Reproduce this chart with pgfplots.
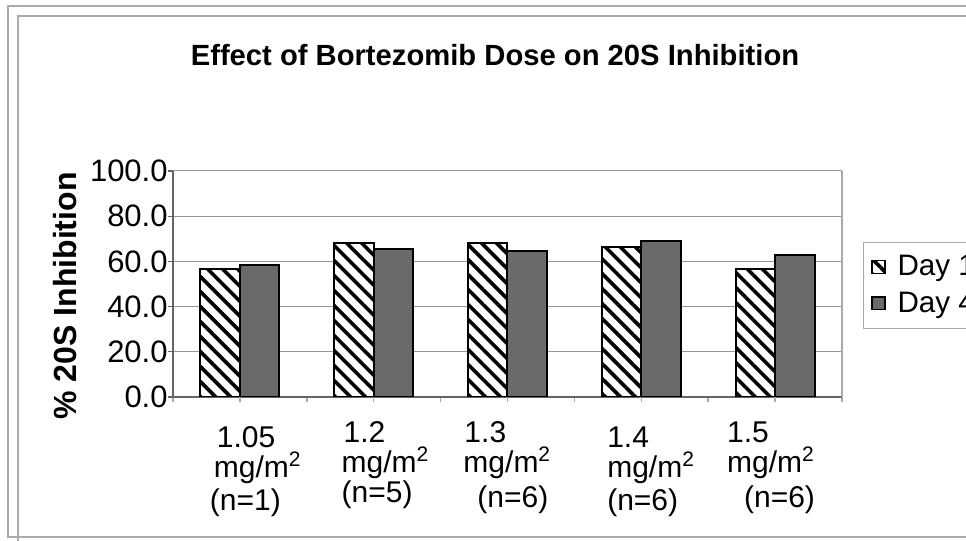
\documentclass[border=0pt]{standalone}
\usepackage{fontspec}
\setmainfont{Liberation Sans}
\usepackage{pgfplots}
\pgfplotsset{compat=1.18}
\usetikzlibrary{patterns.meta}
\definecolor{dayfour}{RGB}{106,106,106}
\definecolor{gridc}{RGB}{150,150,150}
\definecolor{framec}{RGB}{170,170,170}
\definecolor{axisc}{RGB}{100,100,100}
\begin{document}
\begin{tikzpicture}
\useasboundingbox (0,0) rectangle (483pt,270.5pt);
\clip (0,0) rectangle (483pt,270.5pt);
\draw[framec, line width=0.75pt] (4pt,2pt) rectangle (500pt,267.5pt);
\draw[framec, line width=0.75pt] (9pt,-10pt) rectangle (500pt,262.5pt);
\node[font=\bfseries\fontsize{14.6}{17}\selectfont] at (247.5pt,243pt) {Effect of Bortezomib Dose on 20S Inhibition};
\begin{axis}[
  at={(86.5pt,72pt)}, anchor=south west,
  scale only axis, width=334.5pt, height=113pt,
  xmin=-0.5, xmax=4.5, ymin=0, ymax=100,
  axis x line*=bottom, axis y line*=left,
  axis line style={draw=axisc, line width=0.75pt},
  tick align=outside,
  major tick length=2.5pt,
  ytick={0,20,...,100},
  ymajorgrids, grid style={draw=gridc, line width=0.5pt},
  ytick style={draw=axisc, line width=0.6pt},
  yticklabel style={font=\fontsize{15.5}{18}\selectfont, inner sep=0pt},
  /pgf/number format/.cd, fixed, fixed zerofill, precision=1, assume math mode=true,
  /pgfplots/.cd,
  ylabel={\% 20S Inhibition},
  ylabel style={font=\bfseries\fontsize{16}{19}\selectfont, at={(axis description cs:-0.1615,0.447)}, anchor=center},
  xtick={-0.5,0.5,...,4.5},
  xticklabels={},
  xtick style={draw=framec, line width=0.75pt},
  extra x ticks={0,1,2,3,4},
  extra x tick style={tick style={draw=none}},
  extra x tick labels={
    {\rule{0pt}{13.5pt}\hspace*{18.5pt}1.05\\\hspace*{17pt}mg/m\textsuperscript{2}\\[1.5pt]\hspace*{15pt}(n=1)},
    {\rule{0pt}{11pt}\hspace*{15pt}1.2\\\hspace*{14pt}mg/m\textsuperscript{2}\\\hspace*{14pt}(n=5)},
    {\rule{0pt}{11pt}\hspace*{8.5pt}1.3\\\hspace*{8pt}mg/m\textsuperscript{2}\\[2.5pt]\hspace*{15pt}(n=6)},
    {\rule{0pt}{13.5pt}\hspace*{13pt}1.4\\\hspace*{13pt}mg/m\textsuperscript{2}\\[1.5pt]\hspace*{13pt}(n=6)},
    {\rule{0pt}{11pt}\hspace*{6pt}1.5\\\hspace*{6pt}mg/m\textsuperscript{2}\\[2.5pt]\hspace*{14.5pt}(n=6)}
  },
  xticklabel style={font=\fontsize{15}{15}\selectfont, align=left, text width=60pt, anchor=north, inner sep=0pt, yshift=-9pt},
  legend style={at={(axis description cs:1.0314,0.686)}, anchor=north west, draw=framec, fill=white,
    font=\fontsize{14.8}{17}\selectfont, inner xsep=4pt, inner ysep=4.5pt, row sep=2.5pt,
    /tikz/every odd column/.append style={column sep=4pt}},
  legend cell align=left,
  legend image code/.code={\draw[#1, line width=0.6pt] (0pt,-3.2pt) rectangle (6.5pt,3.2pt);},
  after end axis/.code={\draw[framec, line width=0.75pt] (rel axis cs:1,0) -- (rel axis cs:1,1);},
]
\addplot[ybar, bar width=0.295, bar shift=-0.1475, draw=black, line width=1pt, fill=white,
  postaction={pattern={Lines[angle=-45,distance=5.3pt,line width=1.8pt]}}]
  coordinates {(0,56.6) (1,68.3) (2,68.3) (3,66.4) (4,56.6)};
\addplot[ybar, bar width=0.295, bar shift=0.1475, draw=black, line width=1pt, fill=dayfour]
  coordinates {(0,58.4) (1,65.5) (2,64.7) (3,69.2) (4,62.7)};
\legend{Day 1, Day 4}
\end{axis}
\end{tikzpicture}
\end{document}
